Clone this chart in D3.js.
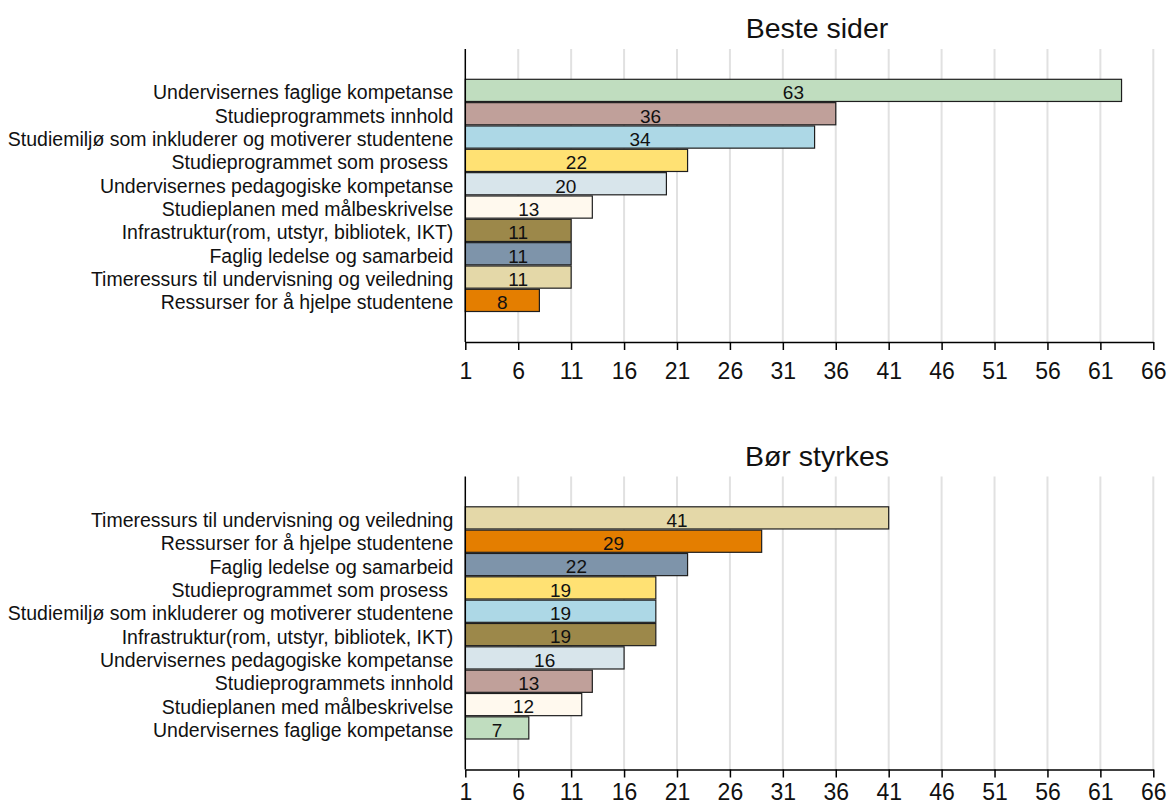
<!DOCTYPE html>
<html>
<head>
<meta charset="utf-8">
<script src="https://cdn.jsdelivr.net/npm/d3@7"></script>
<style>
  html, body { margin: 0; padding: 0; background: #fff; }
  svg { display: block; font-family: "Liberation Sans", Arial, sans-serif; }
  text { white-space: pre; }
</style>
</head>
<body>
<svg id="chart" width="1168" height="807"></svg>
<script>
// Categories and their colours (shared by both panels)
const categoryColors = {
  "Undervisernes faglige kompetanse": "#c0ddbf",
  "Studieprogrammets innhold": "#c0a09a",
  "Studiemiljø som inkluderer og motiverer studentene": "#add8e6",
  "Studieprogrammet som prosess ": "#ffe173",
  "Undervisernes pedagogiske kompetanse": "#d8e5eb",
  "Studieplanen med målbeskrivelse": "#fff9ee",
  "Infrastruktur(rom, utstyr, bibliotek, IKT)": "#9c884a",
  "Faglig ledelse og samarbeid": "#7e94aa",
  "Timeressurs til undervisning og veiledning": "#e4d8a8",
  "Ressurser for å hjelpe studentene": "#e47e00"
};

// Panel 1: "Beste sider"
const besteCategories = [
  "Undervisernes faglige kompetanse",
  "Studieprogrammets innhold",
  "Studiemiljø som inkluderer og motiverer studentene",
  "Studieprogrammet som prosess ",
  "Undervisernes pedagogiske kompetanse",
  "Studieplanen med målbeskrivelse",
  "Infrastruktur(rom, utstyr, bibliotek, IKT)",
  "Faglig ledelse og samarbeid",
  "Timeressurs til undervisning og veiledning",
  "Ressurser for å hjelpe studentene"
];
const besteValues = [63, 36, 34, 22, 20, 13, 11, 11, 11, 8];

// Panel 2: "Bør styrkes"
const styrkesCategories = [
  "Timeressurs til undervisning og veiledning",
  "Ressurser for å hjelpe studentene",
  "Faglig ledelse og samarbeid",
  "Studieprogrammet som prosess ",
  "Studiemiljø som inkluderer og motiverer studentene",
  "Infrastruktur(rom, utstyr, bibliotek, IKT)",
  "Undervisernes pedagogiske kompetanse",
  "Studieprogrammets innhold",
  "Studieplanen med målbeskrivelse",
  "Undervisernes faglige kompetanse"
];
const styrkesValues = [41, 29, 22, 19, 19, 19, 16, 13, 12, 7];

// Shared axis ticks
const tickValues = [1, 6, 11, 16, 21, 26, 31, 36, 41, 46, 51, 56, 61, 66];

const svg = d3.select("#chart");

const plotLeft = 465.3, plotRight = 1153.3;
const plotTop = 49, plotBottom = 342;

const x = d3.scaleLinear().domain([1, 66]).range([plotLeft, plotRight]);

function drawPanel(offsetY, title, categories, values, tickPad) {
  const g = svg.append("g").attr("transform", `translate(0,${offsetY})`);
  const data = categories.map((c, i) => ({ cat: c, val: values[i] }));

  const y = d3.scaleBand()
    .domain(categories)
    .range([plotTop + 30.3, plotBottom - 30.5])
    .paddingInner(0.05);

  // Title
  g.append("text")
    .attr("x", 817)
    .attr("y", 38)
    .attr("text-anchor", "middle")
    .attr("font-size", 28.5)
    .attr("fill", "#111")
    .text(title);

  // Vertical gridlines
  g.append("g")
    .selectAll("line")
    .data(tickValues.slice(1))
    .join("line")
    .attr("x1", d => x(d)).attr("x2", d => x(d))
    .attr("y1", plotTop).attr("y2", plotBottom)
    .attr("stroke", "#e1e1e1")
    .attr("stroke-width", 2);

  // Bars
  g.append("g")
    .selectAll("rect")
    .data(data)
    .join("rect")
    .attr("x", x(1))
    .attr("y", d => y(d.cat))
    .attr("width", d => x(d.val) - x(1))
    .attr("height", y.bandwidth())
    .attr("fill", d => categoryColors[d.cat])
    .attr("stroke", "#1e1e1e")
    .attr("stroke-width", 1.2);

  // Value labels inside bars
  g.append("g")
    .selectAll("text")
    .data(data)
    .join("text")
    .attr("x", d => (x(1) + x(d.val)) / 2)
    .attr("y", d => y(d.cat) + y.bandwidth() / 2 + 8.8)
    .attr("text-anchor", "middle")
    .attr("font-size", 19)
    .attr("fill", "#111")
    .text(d => d.val);

  // Category axis (left)
  const ya = g.append("g")
    .attr("transform", `translate(${plotLeft},0)`)
    .call(d3.axisLeft(y).tickSize(0).tickPadding(12));
  ya.select(".domain").remove();
  ya.selectAll(".tick text")
    .attr("font-size", 19.5)
    .attr("font-family", "Liberation Sans, Arial, sans-serif")
    .attr("fill", "#111")
    .attr("dy", "9px");

  g.append("line")
    .attr("x1", plotLeft).attr("x2", plotLeft)
    .attr("y1", plotTop).attr("y2", plotBottom)
    .attr("stroke", "#000")
    .attr("stroke-width", 1.5);

  // Value axis (bottom)
  const xa = g.append("g")
    .attr("transform", `translate(0,${plotBottom})`)
    .call(d3.axisBottom(x).tickValues(tickValues).tickSize(8).tickPadding(tickPad).tickSizeOuter(0));
  xa.select(".domain").attr("stroke", "#000").attr("stroke-width", 1.5);
  xa.selectAll(".tick line").attr("stroke", "#000").attr("stroke-width", 1.5);
  xa.selectAll(".tick text")
    .attr("font-size", 23)
    .attr("font-family", "Liberation Sans, Arial, sans-serif")
    .attr("fill", "#111");
}

drawPanel(0, "Beste sider", besteCategories, besteValues, 13);
drawPanel(427.5, "Bør styrkes", styrkesCategories, styrkesValues, 6);
</script>
</body>
</html>
